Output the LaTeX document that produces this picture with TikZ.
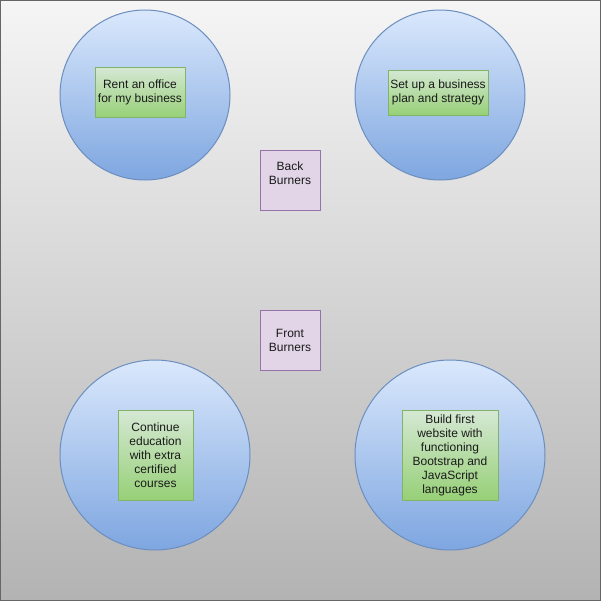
\documentclass[tikz,border=0pt]{standalone}
\usepackage{fontspec}
\setmainfont{Liberation Sans}
\usepackage{tikz}
\definecolor{bgtop}{HTML}{F5F5F5}
\definecolor{bgbot}{HTML}{B3B3B3}
\definecolor{bgline}{HTML}{666666}
\definecolor{bluetop}{HTML}{DAE8FC}
\definecolor{bluebot}{HTML}{7EA6E0}
\definecolor{blueline}{HTML}{6C8EBF}
\definecolor{greentop}{HTML}{D5E8D4}
\definecolor{greenbot}{HTML}{97D077}
\definecolor{greenline}{HTML}{82B366}
\definecolor{purplefill}{HTML}{E1D5E7}
\definecolor{purpleline}{HTML}{9673A6}
\definecolor{textcol}{HTML}{1A1A1A}
\tikzset{
    goal/.style={
        circle, draw=blueline, line width=0.75pt,
        top color=bluetop, bottom color=bluebot,
        inner sep=0pt
    },
    task/.style={
        rectangle, draw=greenline, line width=0.75pt,
        top color=greentop, bottom color=greenbot,
        inner sep=0pt, align=center, text=textcol,
        font=\fontsize{9}{10.5}\selectfont
    },
    burner/.style={
        rectangle, draw=purpleline, fill=purplefill, line width=0.75pt,
        minimum size=45pt, inner sep=0pt, align=center, text=textcol,
        font=\fontsize{9}{10.5}\selectfont
    }
}

\begin{document}
\begin{tikzpicture}[x=0.75pt, y=-0.75pt]
	
	\useasboundingbox (0,0) rectangle (601,601);
	
	\draw[bgline, line width=0.75pt, top color=bgtop, bottom color=bgbot]
	(0.5,0.5) rectangle (600.5,600.5);
	
	\node[goal, minimum size=127.5pt] (rentcircle) at (145,95) {};
	\node[goal, minimum size=127.5pt] (plancircle) at (440,95) {};
	\node[goal, minimum size=142.5pt] (educircle) at (155,455) {};
	\node[goal, minimum size=142.5pt] (webcircle) at (450,455) {};
	
	\node[task, minimum width=67.5pt, minimum height=37.5pt] (rent) at (140,92.5)
	{Rent an office\\for my business};
	
	\node[task, minimum width=75pt, minimum height=33.75pt] (plan) at (438,92.5)
	{Set up a business\\plan and strategy};
	
	\node[task, minimum width=56.25pt, minimum height=67.5pt] (edu) at (155.5,455)
	{Continue\\education\\with extra\\certified\\courses};
	
	\node[task, minimum width=72pt, minimum height=67.5pt] (web) at (450,455)
	{Build first\\website with\\functioning\\Bootstrap and\\JavaScript\\languages};
	
	\node[burner] (back) at (290,180) {Back\\Burners\\\mbox{}};
	
	\node[burner] (front) at (290,340) {Front\\Burners};
	
\end{tikzpicture}
\end{document}
